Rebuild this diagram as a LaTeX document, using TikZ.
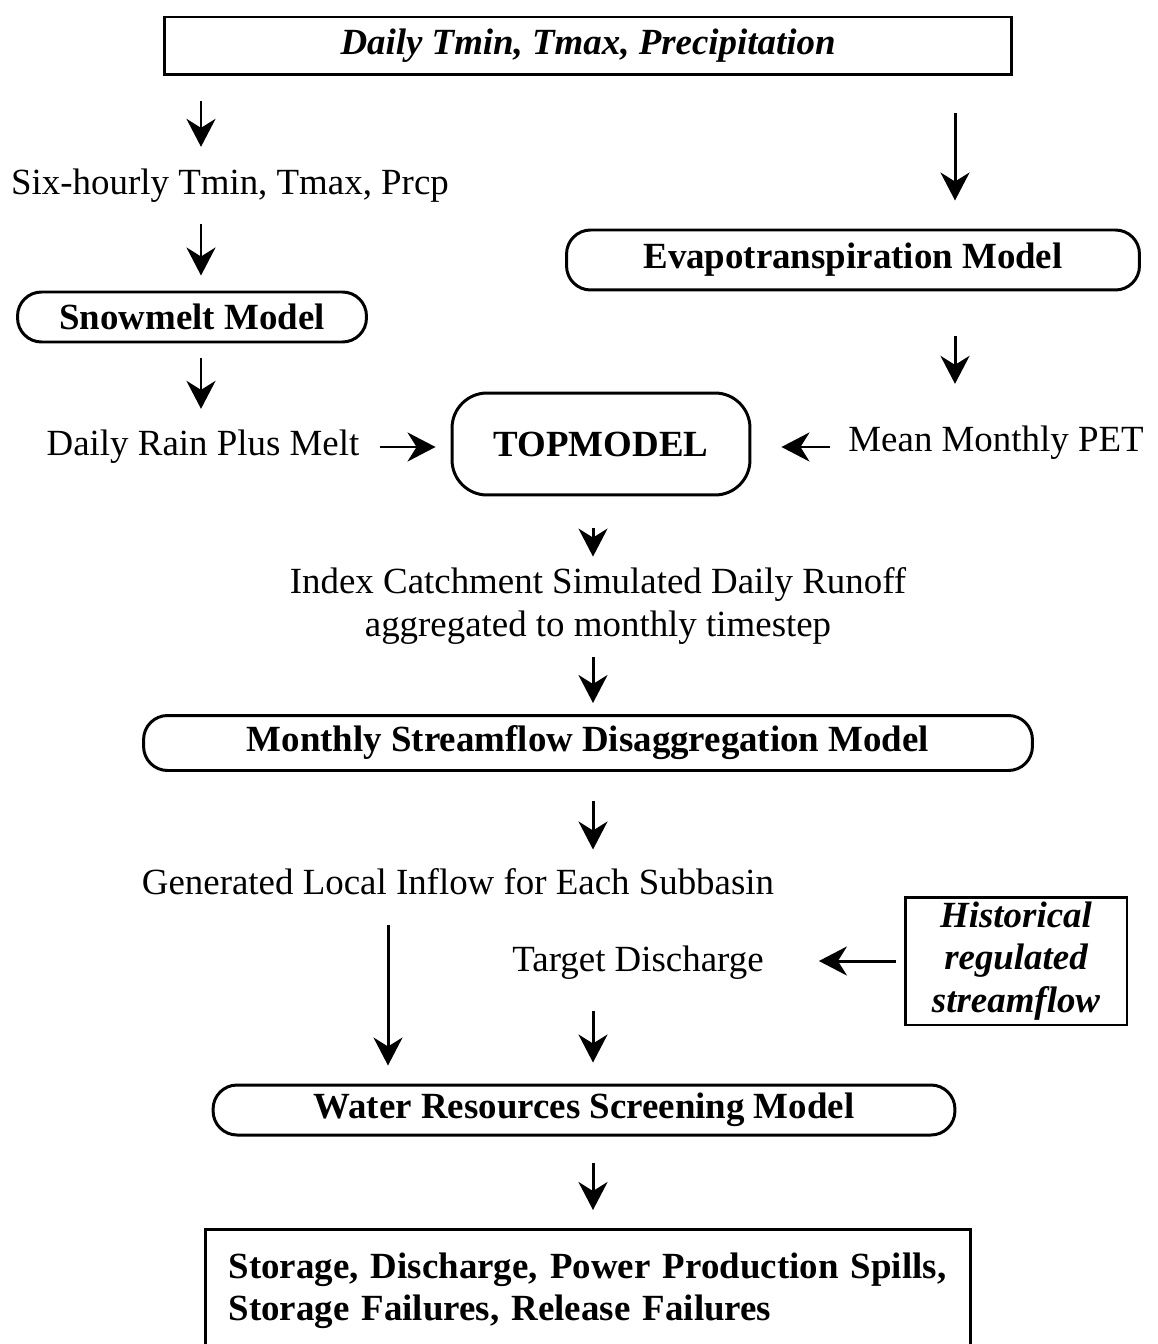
\documentclass[tikz,border=0pt]{standalone}
\usepackage{fontspec}
\setmainfont{Liberation Serif}
\usetikzlibrary{positioning,arrows.meta,calc}

\begin{document}
\begin{tikzpicture}[x=0.02cm, y=-0.02cm,
  >={Stealth[length=0.56cm, width=0.58cm, inset=0.18cm]},
  every node/.style={font=\fontsize{21}{24}\selectfont, inner sep=0pt},
  plainbox/.style={draw, line width=1.7pt},
  roundbox/.style={draw, line width=1.7pt, rounded corners=0.48cm},
  flow/.style={->, line width=1.7pt}]
  \useasboundingbox (0,0) rectangle (1158,1344);

  % arrow columns
  \coordinate (colL) at (201,0);
  \coordinate (colR) at (955,0);
  \coordinate (colC) at (593,0);
  \coordinate (colG) at (388,0);

  \node[plainbox, minimum width=16.94cm, minimum height=1.16cm, font=\fontsize{21}{24}\selectfont\bfseries\itshape] (Input) at (588,46) {Daily Tmin, Tmax, Precipitation};
  \node (SixHr) at (230,186) {Six-hourly Tmin, Tmax, Prcp};
  \node[roundbox, minimum width=6.98cm, minimum height=1cm, font=\fontsize{21}{24}\selectfont\bfseries] (Snow) at (192,317) {Snowmelt Model};
  \node (Rain) at (203,447) {Daily Rain Plus Melt};
  \node[roundbox, rounded corners=0.7cm, minimum width=5.96cm, minimum height=2.04cm, font=\fontsize{21}{24}\selectfont\bfseries] (Top) at (601,444) {TOPMODEL};
  \node[roundbox, minimum width=11.46cm, minimum height=1.2cm, font=\fontsize{21}{24}\selectfont\bfseries] (Evap) at (853,260) {Evapotranspiration Model};
  \node (PET) at (996,443) {Mean Monthly PET};
  \node[align=center] (Runoff) at (598,606) {Index Catchment Simulated Daily Runoff\\aggregated to monthly timestep};
  \node[roundbox, minimum width=17.78cm, minimum height=1.1cm, font=\fontsize{21}{24}\selectfont\bfseries] (Disagg) at (588,743) {Monthly Streamflow Disaggregation Model};
  \node (Inflow) at (458,882) {Generated Local Inflow for Each Subbasin};
  \node (Target) at (638,963) {Target Discharge};
  \node[plainbox, minimum width=4.44cm, minimum height=2.56cm, align=center, font=\fontsize{21}{24}\selectfont\bfseries\itshape] (Hist) at (1016,961) {Historical\\regulated\\streamflow};
  \node[roundbox, minimum width=14.84cm, minimum height=1cm, font=\fontsize{21}{24}\selectfont\bfseries] (Screen) at (584,1110) {Water Resources Screening Model};
  \node[plainbox, anchor=north west, text width=14.38cm, inner xsep=0.46cm, inner ysep=0.46cm, align=left, text depth=2cm, font=\fontsize{21}{24}\selectfont\bfseries] (Output) at (204,1228) {Storage, Discharge, Power Production Spills,\\Storage Failures, Release Failures};

  % left branch
  \draw[flow, shorten <=0.5cm, shorten >=0.44cm] (Input.south -| colL) -- (SixHr.north -| colL);
  \draw[flow, shorten <=0.42cm, shorten >=0.3cm] (SixHr.south -| colL) -- (Snow.north -| colL);
  \draw[flow, shorten <=0.3cm, shorten >=0.42cm] (Snow.south -| colL) -- (Rain.north -| colL);
  \draw[flow, shorten <=0.4cm, shorten >=0.3cm] (Rain.east) -- (Rain.east -| Top.west);
  % right branch
  \draw[flow, shorten <=0.74cm, shorten >=0.56cm] (Input.south -| colR) -- (Evap.north -| colR);
  \draw[flow, shorten <=0.9cm, shorten >=0.84cm] (Evap.south -| colR) -- (PET.north -| colR);
  \draw[flow, shorten <=0.36cm, shorten >=0.6cm] ([yshift=-0.08cm]PET.west) -- ([yshift=-0.08cm]PET.west -| Top.east);
  % centre column
  \draw[flow, shorten <=0.64cm, shorten >=0.22cm] (Top.south -| colC) -- (Runoff.north -| colC);
  \draw[flow, shorten <=0.26cm, shorten >=0.22cm] (Runoff.south -| colC) -- (Disagg.north -| colC);
  \draw[flow, shorten <=0.58cm, shorten >=0.38cm] (Disagg.south -| colC) -- (Inflow.north -| colC);
  \draw[flow, shorten <=0.58cm, shorten >=0.36cm] (Inflow.south -| colG) -- (Screen.north -| colG);
  \draw[flow, shorten <=0.62cm, shorten >=0.42cm] (Target.south -| colC) -- (Screen.north -| colC);
  \draw[flow, shorten <=0.16cm, shorten >=1.1cm] (Hist.west) -- (Hist.west -| Target.east);
  \draw[flow, shorten <=0.54cm, shorten >=0.36cm] (Screen.south -| colC) -- (Output.north -| colC);
\end{tikzpicture}
\end{document}
